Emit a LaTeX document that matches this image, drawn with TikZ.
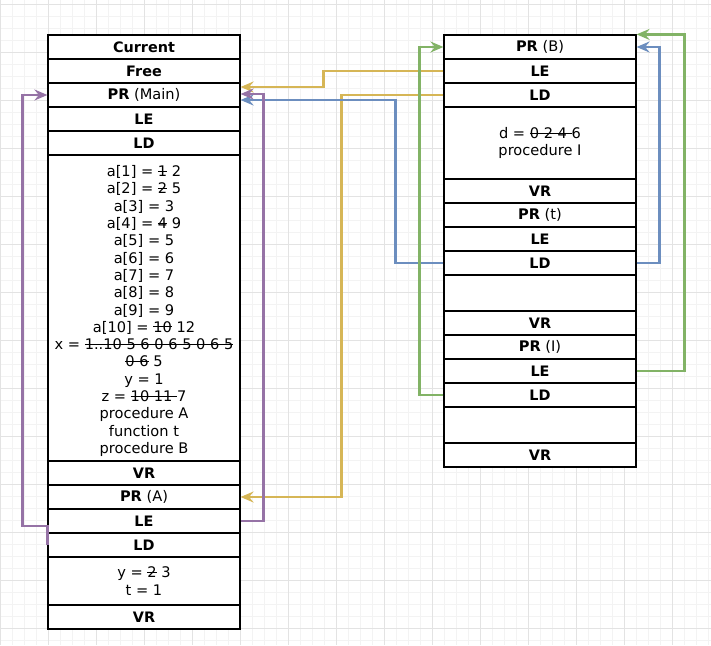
\documentclass[tikz,border=0pt]{standalone}
\usepackage{fontspec}
\setmainfont{DejaVu Sans}
\usetikzlibrary{arrows.meta,calc}

\definecolor{gridminor}{HTML}{F3F3F3}
\definecolor{gridmajor}{HTML}{E3E3E3}
\definecolor{linkpurple}{HTML}{9673A6}
\definecolor{linkyellow}{HTML}{D6B656}
\definecolor{linkblue}{HTML}{6C8EBF}
\definecolor{linkgreen}{HTML}{82B366}

% struck-out value: the text with a horizontal rule across it
\newsavebox\strkbox
\newcommand\strk[1]{\leavevmode\sbox\strkbox{#1}%
  \rlap{\rule[0.34em]{\wd\strkbox}{0.9pt}}\usebox\strkbox}

\begin{document}
\begin{tikzpicture}[x=1pt,y=-1pt,
  cell/.style={draw=black, line width=1.2pt, fill=white,
    minimum width=192pt, minimum height=24pt, inner sep=0pt,
    font=\fontsize{14.6}{17.3}\selectfont, align=center},
  head/.style={cell, font=\fontsize{14.4}{17.3}\selectfont\bfseries},
  link/.style={line width=2.5pt, line join=miter,
    -{Stealth[length=13pt,width=11pt,inset=4.5pt]}},
  purp/.style={link, draw=linkpurple},
  yel/.style={link, draw=linkyellow},
  blu/.style={link, draw=linkblue},
  grn/.style={link, draw=linkgreen},
  minorline/.style={draw=gridminor, line width=1pt},
  majorline/.style={draw=gridmajor, line width=1pt},
]
\useasboundingbox (0,0) rectangle (711,645);
\fill[white] (0,0) rectangle (711,645);

% background grid
\foreach \x in {0,12,...,708} \draw[minorline] (\x,0) -- (\x,645);
\foreach \y in {4,16,...,640} \draw[minorline] (0,\y) -- (711,\y);
\foreach \x in {0,48,...,672} \draw[majorline] (\x,0) -- (\x,645);
\foreach \y in {4,52,...,628} \draw[majorline] (0,\y) -- (711,\y);

% ---- main stack ----
\node[head] (mCur) at (144,47) {Current};
\node[head] (mFree) at (144,71) {Free};
\node[cell] (mPR) at (144,95) {\textbf{PR} (Main)};
\node[head] (mLE) at (144,119) {LE};
\node[head] (mLD) at (144,143) {LD};
\node[cell, minimum height=306pt] (mVars) at (144,308) {};
\node[cell, draw=none, fill=none] (mVarsText) at (144,311) {%
  a[1] = \strk{1} 2\\
  a[2] = \strk{2} 5\\
  a[3] = 3\\
  a[4] = \strk{4} 9\\
  a[5] = 5\\
  a[6] = 6\\
  a[7] = 7\\
  a[8] = 8\\
  a[9] = 9\\
  a[10] = \strk{10} 12\\
  x = \strk{1..10 5 6 0 6 5 0 6 5}\\
  \strk{0 6} 5\\
  y = 1\\
  z = \strk{10 11 }7\\
  procedure A\\
  function t\\
  procedure B};
\node[head] (mVR) at (144,473) {VR};
\node[cell] (mPRa) at (144,497) {\textbf{PR} (A)};
\node[head] (mLEa) at (144,521) {LE};
\node[head] (mLDa) at (144,545) {LD};
\node[cell, minimum height=48pt] (mVarsA) at (144,581) {y = \strk{2} 3\\ t = 1};
\node[head] (mVRa) at (144,617) {VR};

% ---- frames of B, t and I ----
\node[cell] (rPR) at (540,47) {\textbf{PR} (B)};
\node[head] (rLE) at (540,71) {LE};
\node[head] (rLD) at (540,95) {LD};
\node[cell, minimum height=72pt] (rVars) at (540,143) {d = \strk{0 2 4 }6\\ procedure I};
\node[head] (rVR) at (540,191) {VR};
\node[cell] (rPRt) at (540,215) {\textbf{PR} (t)};
\node[head] (rLEt) at (540,239) {LE};
\node[head] (rLDt) at (540,263) {LD};
\node[cell, minimum height=36pt] (rVarsT) at (540,293) {};
\node[head] (rVRt) at (540,323) {VR};
\node[cell] (rPRi) at (540,347) {\textbf{PR} (I)};
\node[head] (rLEi) at (540,371) {LE};
\node[head] (rLDi) at (540,395) {LD};
\node[cell, minimum height=36pt] (rVarsI) at (540,425) {};
\node[head] (rVRi) at (540,455) {VR};

% ---- links ----
\draw[yel] (rLE.west) -- ++(-120,0) |- ([yshift=8pt]mPR.east);
\draw[yel] (rLD.west) -- ++(-102,0) |- (mPRa.east);
\draw[blu] (rLDt.west) -- ++(-48,0) |- ([yshift=-5pt]mPR.east);
\draw[blu] (rLDt.east) -- ++(23,0) |- (rPR.east);
\draw[grn] (rLDi.west) -- ++(-24,0) |- (rPR.west);
\draw[grn] (rLEi.east) -- ++(48,0) |- (rPR.north east);
\draw[purp] (mLEa.east) -- ++(23,0) |- ([yshift=1pt]mPR.east);
\draw[purp] (mLDa.west) -- ++(0,-19) -- ++(-25,0) |- (mPR.west);
\end{tikzpicture}
\end{document}
